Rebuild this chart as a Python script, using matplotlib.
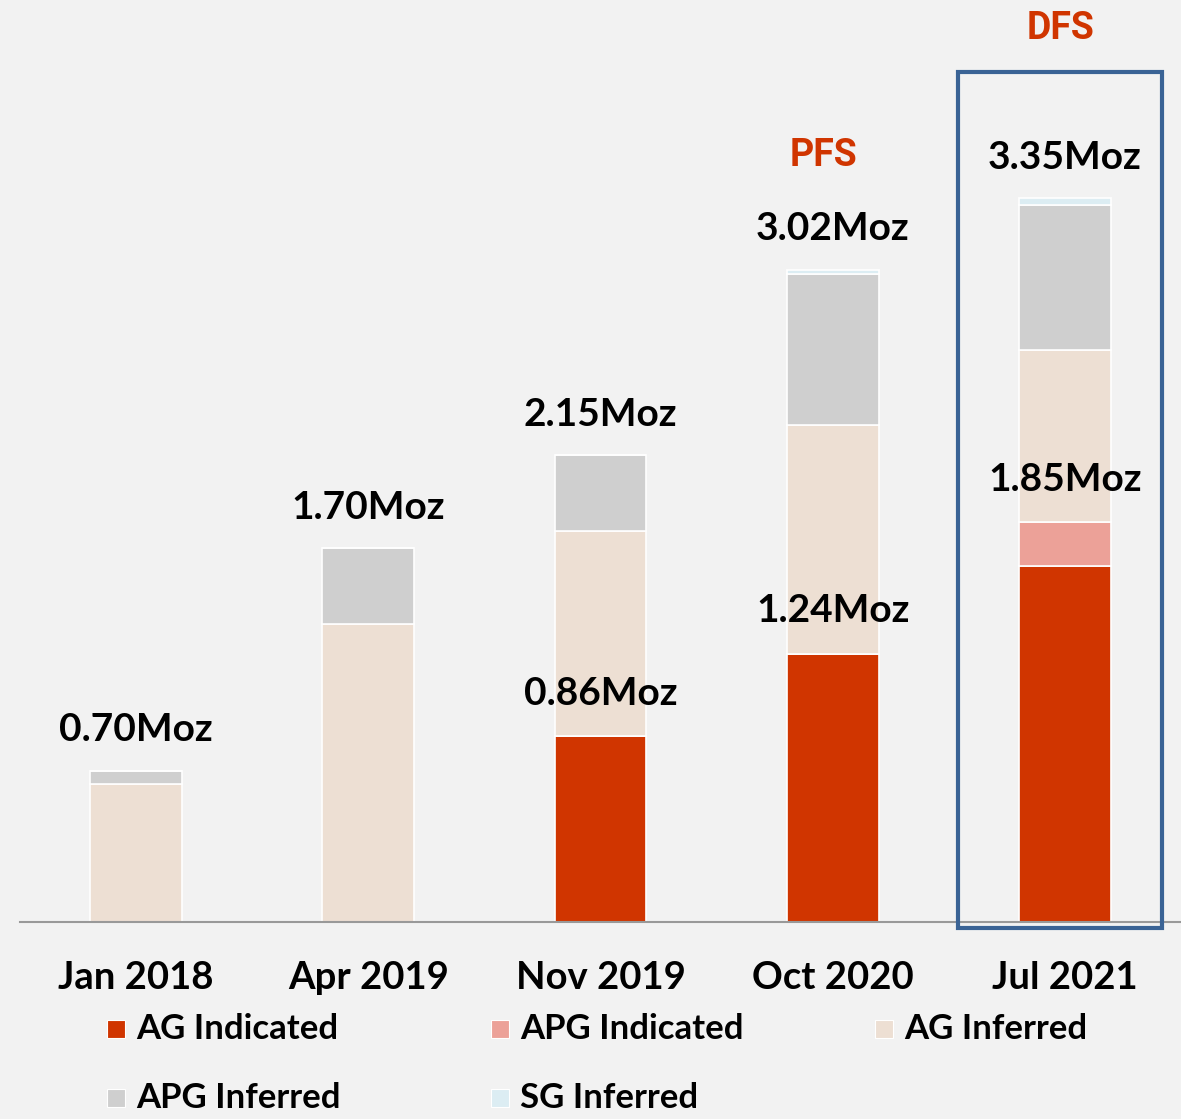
#!/usr/bin/env python3
"""Stacked bar chart of resource growth (Moz) by estimate date."""

import matplotlib.pyplot as plt
from matplotlib.patches import Rectangle

dates = ["Jan 2018", "Apr 2019", "Nov 2019", "Oct 2020", "Jul 2021"]

series_names = ["AG Indicated", "APG Indicated", "AG Inferred", "APG Inferred", "SG Inferred"]
ag_indicated = [0.00, 0.00, 0.86, 1.24, 1.65]
apg_indicated = [0.00, 0.00, 0.00, 0.00, 0.20]
ag_inferred = [0.64, 1.38, 0.95, 1.06, 0.80]
apg_inferred = [0.06, 0.35, 0.35, 0.70, 0.67]
sg_inferred = [0.00, 0.00, 0.00, 0.02, 0.03]

total_labels = ["0.70Moz", "1.70Moz", "2.15Moz", "3.02Moz", "3.35Moz"]
indicated_labels = ["", "", "0.86Moz", "1.24Moz", "1.85Moz"]

colors = ["#d03500", "#eca198", "#eddfd3", "#cfcfcf", "#dcedf3"]
BG = "#f2f2f2"
FONT = ["Lato", "DejaVu Sans"]


def main() -> None:
    W, H = 1181, 1119
    fig = plt.figure(figsize=(W / 100, H / 100), dpi=100, facecolor=BG)
    base_px = 922
    ax = fig.add_axes([20 / W, (H - base_px) / H, 1 - 20 / W, base_px / H])
    ax.set_facecolor(BG)

    px_per_moz = 216
    ax.set_xlim(-0.5, 4.5)
    ax.set_ylim(0, base_px / px_per_moz)

    x = range(len(dates))
    bottom = [0.0] * len(dates)
    for vals, col in zip(
        [ag_indicated, apg_indicated, ag_inferred, apg_inferred, sg_inferred], colors
    ):
        ax.bar(x, vals, width=0.396, bottom=bottom, color=col,
               edgecolor="white", linewidth=1.2, zorder=2)
        bottom = [b + v for b, v in zip(bottom, vals)]

    for i in x:
        ax.text(i, bottom[i] + 0.19, total_labels[i], ha="center", va="center",
                fontsize=28, fontweight="bold", family=FONT, color="black")
        if indicated_labels[i]:
            ind = ag_indicated[i] + apg_indicated[i]
            ax.text(i, ind + 0.2, indicated_labels[i], ha="center", va="center",
                    fontsize=28, fontweight="bold", family=FONT, color="black", zorder=3)

    # category labels
    for i, d in enumerate(dates):
        ax.text(i, -56 / px_per_moz, d, ha="center", va="center", fontsize=27.5,
                fontweight="bold", family=FONT, clip_on=False)

    # study stage annotations
    ax.text(2.96, 3.55, "PFS", ha="center", va="center", fontsize=27,
            fontweight="bold", family=["Roboto", "DejaVu Sans"], color="#d03500")
    ax.text(3.98, 4.135, "DFS", ha="center", va="center", fontsize=27,
            fontweight="bold", family=["Roboto", "DejaVu Sans"], color="#d03500")

    ax.add_patch(Rectangle((3.54, -0.028), 0.877, 3.963, fill=False,
                           edgecolor="#3a6395", linewidth=3, clip_on=False, zorder=4))

    for s in ["top", "right", "left"]:
        ax.spines[s].set_visible(False)
    ax.spines["bottom"].set_color("#999999")
    ax.spines["bottom"].set_linewidth(1.5)
    ax.set_xticks([])
    ax.set_yticks([])

    # legend, laid out manually in 3 columns
    col_x = [107, 491, 875]
    row_y = [1029, 1098]
    for k, (name, col) in enumerate(zip(series_names, colors)):
        cx = col_x[k % 3]
        cy = row_y[k // 3]
        fig.patches.append(Rectangle(((cx) / W, 1 - (cy + 9) / H), 18 / W, 18 / H,
                                     transform=fig.transFigure, facecolor=col,
                                     edgecolor="white", linewidth=0.8))
        fig.text((cx + 29) / W, 1 - cy / H, name, ha="left", va="center",
                 fontsize=25, fontweight="bold", family=FONT)

    fig.savefig("out.png", dpi=100, facecolor=BG)
    plt.close(fig)


if __name__ == "__main__":
    main()
